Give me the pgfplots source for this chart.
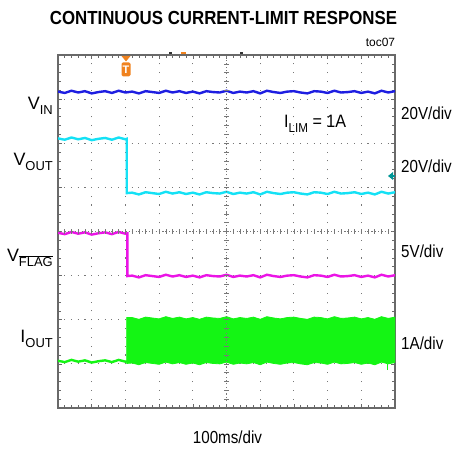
\documentclass[border=0pt]{standalone}
\usepackage{pgfplots}
\pgfplotsset{compat=1.18}
\usepackage{fontspec}
\setmainfont{Liberation Sans}
\definecolor{cvin}{RGB}{30,30,225}
\definecolor{cvout}{RGB}{20,225,245}
\definecolor{cflag}{RGB}{235,20,230}
\definecolor{ciout}{RGB}{20,245,20}
\definecolor{trig}{RGB}{240,130,30}
\definecolor{gnd}{RGB}{0,150,150}
\definecolor{frame}{RGB}{105,105,105}
\definecolor{gridc}{RGB}{120,120,120}
\newcommand{\lab}[2]{\fontsize{18}{20}\selectfont #1\raisebox{-5bp}{\fontsize{13}{14}\selectfont #2}}
\newcommand{\rlab}[1]{\scalebox{0.87}[1]{\fontsize{17.5}{19}\selectfont #1}}
\begin{document}
\begin{tikzpicture}
\path[use as bounding box] (0bp,0bp) rectangle (453bp,450bp);
\begin{axis}[
  at={(58bp,42bp)}, anchor=south west, scale only axis,
  width=337bp, height=353bp,
  xmin=0, xmax=10, ymin=0, ymax=8,
  xtick={0,...,10}, ytick={0,...,8},
  xticklabels={}, yticklabels={},
  minor x tick num=4, minor y tick num=4,
  tick align=inside, major tick length=4bp, minor tick length=3bp,
  grid=major,
  x grid style={draw=gridc, line width=1.1bp, dash pattern=on 1.1bp off 7.725bp, dash phase=0.55bp},
  y grid style={draw=gridc, line width=1.1bp, dash pattern=on 1.1bp off 5.64bp, dash phase=0.55bp},
  axis line style={draw=frame, line width=1.8bp},
  tick style={draw=frame, line width=0.6bp},
]
% VIN
\addplot[cvin, line width=2.4bp, mark=none] coordinates {
(0,7.17)(0.2,7.14)(0.4,7.19)(0.6,7.15)(0.8,7.18)(1.0,7.13)(1.2,7.16)(1.4,7.18)(1.6,7.14)(1.8,7.19)
(2.0,7.15)(2.2,7.17)(2.4,7.13)(2.6,7.18)(2.8,7.16)(3.0,7.14)(3.2,7.19)(3.4,7.15)(3.6,7.18)(3.8,7.14)
(4.0,7.17)(4.2,7.13)(4.4,7.18)(4.6,7.16)(4.8,7.15)(5.0,7.19)(5.2,7.14)(5.4,7.17)(5.6,7.15)(5.8,7.18)
(6.0,7.13)(6.2,7.19)(6.4,7.16)(6.6,7.14)(6.8,7.17)(7.0,7.18)(7.2,7.15)(7.4,7.13)(7.6,7.18)(7.8,7.17)
(8.0,7.14)(8.2,7.19)(8.4,7.15)(8.6,7.16)(8.8,7.18)(9.0,7.14)(9.2,7.17)(9.4,7.13)(9.6,7.19)(9.8,7.15)(10,7.18)};
% VOUT
\addplot[cvout, line width=2.4bp, mark=none] coordinates {
(0,6.11)(0.2,6.08)(0.4,6.13)(0.6,6.09)(0.8,6.12)(1.0,6.07)(1.2,6.10)(1.4,6.12)(1.6,6.08)(1.8,6.13)(2.0,6.09)
(2.04,6.10)(2.04,4.87)
(2.2,4.88)(2.4,4.84)(2.6,4.89)(2.8,4.87)(3.0,4.85)(3.2,4.90)(3.4,4.86)(3.6,4.89)(3.8,4.85)
(4.0,4.88)(4.2,4.84)(4.4,4.89)(4.6,4.87)(4.8,4.86)(5.0,4.90)(5.2,4.85)(5.4,4.88)(5.6,4.86)(5.8,4.89)
(6.0,4.84)(6.2,4.90)(6.4,4.87)(6.6,4.85)(6.8,4.88)(7.0,4.89)(7.2,4.86)(7.4,4.84)(7.6,4.89)(7.8,4.88)
(8.0,4.85)(8.2,4.90)(8.4,4.86)(8.6,4.87)(8.8,4.89)(9.0,4.85)(9.2,4.88)(9.4,4.84)(9.6,4.90)(9.8,4.86)(10,4.89)};
% VFLAG
\addplot[cflag, line width=2.4bp, mark=none] coordinates {
(0,3.97)(0.2,3.94)(0.4,3.99)(0.6,3.95)(0.8,3.98)(1.0,3.93)(1.2,3.96)(1.4,3.98)(1.6,3.94)(1.8,3.99)(2.0,3.95)
(2.06,3.96)(2.06,2.99)
(2.2,3.00)(2.4,2.96)(2.6,3.01)(2.8,2.99)(3.0,2.97)(3.2,3.02)(3.4,2.98)(3.6,3.01)(3.8,2.97)
(4.0,3.00)(4.2,2.96)(4.4,3.01)(4.6,2.99)(4.8,2.98)(5.0,3.02)(5.2,2.97)(5.4,3.00)(5.6,2.98)(5.8,3.01)
(6.0,2.96)(6.2,3.02)(6.4,2.99)(6.6,2.97)(6.8,3.00)(7.0,3.01)(7.2,2.98)(7.4,2.96)(7.6,3.01)(7.8,3.00)
(8.0,2.97)(8.2,3.02)(8.4,2.98)(8.6,2.99)(8.8,3.01)(9.0,2.97)(9.2,3.00)(9.4,2.96)(9.6,3.02)(9.8,2.98)(10,3.01)};
% IOUT low part
\addplot[ciout, line width=2.4bp, mark=none] coordinates {
(0,1.07)(0.2,1.04)(0.4,1.09)(0.6,1.05)(0.8,1.08)(1.0,1.03)(1.2,1.06)(1.4,1.08)(1.6,1.04)(1.8,1.09)(2.0,1.05)(2.04,1.06)};
% IOUT band
\addplot[ciout, fill=ciout, line width=0.8bp, mark=none] coordinates {
(2.04,1.01)(2.04,2.05)
(2.2,2.05)(2.4,2.01)(2.6,2.06)(2.8,2.04)(3.0,2.02)(3.2,2.07)(3.4,2.03)(3.6,2.06)(3.8,2.02)
(4.0,2.05)(4.2,2.01)(4.4,2.06)(4.6,2.04)(4.8,2.03)(5.0,2.07)(5.2,2.02)(5.4,2.05)(5.6,2.03)(5.8,2.06)
(6.0,2.01)(6.2,2.07)(6.4,2.04)(6.6,2.02)(6.8,2.05)(7.0,2.06)(7.2,2.03)(7.4,2.01)(7.6,2.06)(7.8,2.05)
(8.0,2.02)(8.2,2.07)(8.4,2.03)(8.6,2.04)(8.8,2.06)(9.0,2.02)(9.2,2.05)(9.4,2.01)(9.6,2.07)(9.8,2.03)(10,2.06)
(10,1.03)(9.8,1.00)(9.6,1.04)(9.4,0.98)(9.2,1.02)(9.0,0.99)(8.8,1.03)(8.6,1.01)(8.4,1.00)(8.2,1.04)
(8.0,0.99)(7.8,1.02)(7.6,1.03)(7.4,0.98)(7.2,1.00)(7.0,1.03)(6.8,1.02)(6.6,0.99)(6.4,1.01)(6.2,1.04)
(6.0,0.98)(5.8,1.03)(5.6,1.00)(5.4,1.02)(5.2,0.99)(5.0,1.04)(4.8,1.00)(4.6,1.01)(4.4,1.03)(4.2,0.98)
(4.0,1.02)(3.8,0.99)(3.6,1.03)(3.4,1.00)(3.2,1.04)(3.0,0.99)(2.8,1.01)(2.6,1.03)(2.4,0.98)(2.2,1.02)} -- cycle;
\addplot[ciout, line width=0.8bp, mark=none] coordinates {(9.76,1.0)(9.76,0.86)};
\end{axis}
% centre cross
\draw[gridc, line width=1.1bp, dash pattern=on 1.1bp off 2.27bp] (226.5bp,42bp) -- (226.5bp,395bp);
\draw[gridc, line width=1.1bp, dash pattern=on 1.1bp off 2.27bp] (58bp,218.5bp) -- (395bp,218.5bp);
\foreach \i in {1,...,39} {
  \draw[gridc, line width=0.6bp] (224bp,42bp+\i*8.825bp) -- (229bp,42bp+\i*8.825bp);
}
\foreach \i in {1,...,49} {
  \draw[gridc, line width=0.6bp] (58bp+\i*6.74bp,216bp) -- (58bp+\i*6.74bp,221bp);
}
% top markers
\fill[black!80] (168.5bp,395.5bp) rectangle (171.5bp,398bp);
\fill[trig] (180.5bp,395.5bp) rectangle (185.5bp,398bp);
\fill[black!80] (239.5bp,395.5bp) rectangle (242.5bp,398bp);
% trigger marker
\fill[trig] (121.5bp,394bp) -- (130.5bp,394bp) -- (126bp,388.5bp) -- cycle;
\node[fill=trig, rounded corners=1.5bp, minimum width=9bp, minimum height=14bp, inner sep=0pt, text=white, font=\fontsize{11}{11}\selectfont\bfseries] at (126bp,380.5bp) {T};
% ground marker
\fill[gnd] (388bp,274bp) -- (393bp,278bp) -- (393bp,270bp) -- cycle;
\fill[gnd] (392bp,273bp) rectangle (395bp,275bp);
% texts
\node[anchor=base, inner sep=0pt] at (223.5bp,425bp) {\scalebox{0.89}[1]{\fontsize{19}{21}\selectfont\bfseries CONTINUOUS CURRENT-LIMIT RESPONSE}};
\node[anchor=base, inner sep=0pt, font=\fontsize{12}{14}\selectfont] at (380.5bp,403bp) {toc07};
\node[anchor=base, inner sep=0pt] at (227.5bp,7bp) {\rlab{100ms/div}};
\node[anchor=base east, inner sep=0pt] at (53bp,340bp) {\lab{V}{IN}};
\node[anchor=base east, inner sep=0pt] at (53bp,284bp) {\lab{V}{OUT}};
\node[anchor=base east, inner sep=0pt] at (53bp,188bp) {\lab{V}{$\overline{\hbox{FLAG}}$}};
\node[anchor=base east, inner sep=0pt] at (53bp,107bp) {\lab{I}{OUT}};
\node[anchor=base west, inner sep=0pt] at (284bp,322bp) {\scalebox{0.9}[1]{\lab{I}{LIM}\fontsize{18}{20}\selectfont{} = 1A}};
\node[anchor=base west, inner sep=0pt] at (401bp,330bp) {\rlab{20V/div}};
\node[anchor=base west, inner sep=0pt] at (401bp,277bp) {\rlab{20V/div}};
\node[anchor=base west, inner sep=0pt] at (401bp,192bp) {\rlab{5V/div}};
\node[anchor=base west, inner sep=0pt] at (401bp,100bp) {\rlab{1A/div}};
\end{tikzpicture}
\end{document}
